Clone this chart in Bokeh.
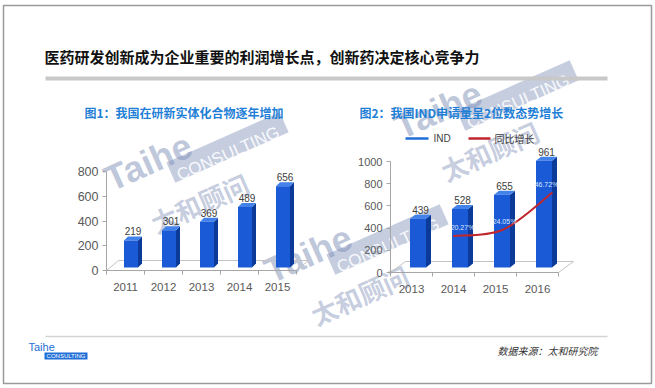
import math
from bokeh.plotting import figure
from bokeh.models import Range1d, LinearAxis, FixedTicker
from bokeh.embed import file_html
from bokeh.resources import INLINE
from bokeh.core.properties import value

W, H = 655, 388

# ---------------- data ----------------
main_title = "医药研发创新成为企业重要的利润增长点，创新药决定核心竞争力"
title1 = "图1：我国在研新实体化合物逐年增加"
title2 = "图2：我国IND申请量呈2位数态势增长"
source_text = "数据来源：太和研究院"

years1 = ["2011", "2012", "2013", "2014", "2015"]
counts1 = [219, 301, 369, 489, 656]
yticks1 = [0, 200, 400, 600, 800]

years2 = ["2013", "2014", "2015", "2016"]
ind2 = [439, 528, 655, 961]
yticks2 = [0, 200, 400, 600, 800, 1000]

growth_idx = [1, 2, 3]          # 2014, 2015, 2016
growth2 = [20.27, 24.05, 46.72]  # %
legend_labels = ["IND", "同比增长"]

# ---------------- helpers ----------------
def range_x(a, pa, b, pb):
    k = (b - a) / (pb - pa)
    return Range1d(start=a + (0 - pa) * k, end=a + (W - pa) * k)

def range_y(a, pa, b, pb):
    k = (b - a) / (pb - pa)
    return Range1d(start=a + (H - pa) * k, end=a + (0 - pa) * k)

p = figure(width=W, height=H, x_range=Range1d(0, W), y_range=Range1d(H, 0),
           x_axis_type=None, y_axis_type=None, toolbar_location=None,
           output_backend="svg", min_border=0)
p.outline_line_color = None
p.background_fill_color = "white"

# chart scales (pixel placement of each panel)
C1 = dict(px_cat=38.0, x0=125.0, y0=270.0, ytop=171.0, vtop=800.0)
C2 = dict(px_cat=42.0, x0=411.0, y0=272.0, ytop=161.0, vtop=1000.0)
p.extra_x_ranges = {
    "c1x": range_x(0, C1["x0"], 1, C1["x0"] + C1["px_cat"]),
    "c2x": range_x(0, C2["x0"], 1, C2["x0"] + C2["px_cat"]),
    "c2l": range_x(1, 452.7, 3, 552.0),
}
p.extra_y_ranges = {
    "c1y": range_y(0, C1["y0"], C1["vtop"], C1["ytop"]),
    "c2y": range_y(0, C2["y0"], C2["vtop"], C2["ytop"]),
    "c2p": range_y(0, 268.8, 60, 268.8 - 60 * 1.645),
}

FRONT, SIDE, TOP = "#1a5ad6", "#0b3a98", "#4282ea"
AXIS_C = "#a6a6a6"
FLOOR_C = "#c4c4c4"
LABEL_C = "#595959"
FONT = "Liberation Sans"
CJK = "Noto Sans CJK SC"

# ---------------- watermarks (drawn first, behind everything) ----------------
WM = "#7f90b8"
th = math.radians(24)
ux, uy = math.cos(th), -math.sin(th)
vx, vy = math.sin(th), math.cos(th)

def wm(ox, oy):
    def at(a, b):
        return ox + ux * a + vx * b, oy + uy * a + vy * b
    x, y = at(0, 0)
    p.text(x=[x], y=[y], text=["Taihe"], text_font=value(FONT), text_font_size="36px",
           text_font_style="bold", text_color=WM, text_alpha=0.5, angle=th,
           text_baseline="alphabetic")
    corners = [at(62, 8), at(186, 8), at(186, 30), at(62, 30)]
    p.patch(x=[c[0] for c in corners], y=[c[1] for c in corners], fill_color=WM,
            fill_alpha=0.45, line_color=None)
    x, y = at(67, 25)
    p.text(x=[x], y=[y], text=["CONSULTING"], text_font=value(FONT), text_font_size="17px",
           text_color="white", text_alpha=0.9, angle=th, text_baseline="alphabetic")
    x, y = at(24, 58)
    p.text(x=[x], y=[y], text=["太和顾问"], text_font=value(CJK), text_font_size="26px",
           text_font_style="bold", text_color=WM, text_alpha=0.45, angle=th,
           text_baseline="alphabetic")

for (wx, wy) in [(106, 180), (266, 272), (396, 128)]:
    wm(wx, wy)

# ---------------- frame and header/footer ----------------
p.quad(left=[3], right=[651], top=[5], bottom=[383], fill_color=None,
       line_color="#9a9a9a", line_width=1.5)
p.text(x=[44], y=[56], text=[main_title], text_font=value(CJK),
       text_font_size="15px", text_font_style="bold", text_color="#111111",
       text_baseline="middle", text_align="left")
p.segment(x0=[45], y0=[78], x1=[607], y1=[78], line_color="#c8c8c8", line_width=4)
p.segment(x0=[45], y0=[336], x1=[607], y1=[336], line_color="#d4d4d4", line_width=1.5)
p.text(x=[497], y=[350], text=[source_text], text_font=value(CJK),
       text_font_size="10px", text_font_style="italic", text_color="#333333",
       text_baseline="middle", text_align="left")
# logo
p.text(x=[28], y=[346], text=["Taihe"], text_font=value(FONT), text_font_size="11px",
       text_color="#1f6fd6", text_baseline="middle", text_align="left")
p.quad(left=[44], right=[87], top=[352], bottom=[359], fill_color="#1f6fd6", line_color=None)
p.text(x=[65.5], y=[355.5], text=["CONSULTING"], text_font=value(FONT), text_font_size="6px",
       text_color="white", text_baseline="middle", text_align="center")

# chart titles
p.text(x=[84], y=[112], text=[title1], text_font=value(CJK), text_font_size="12px",
       text_font_style="bold", text_color="#1f7fd6", text_baseline="middle")
p.text(x=[359], y=[112], text=[title2], text_font=value(CJK), text_font_size="12px",
       text_font_style="bold", text_color="#1f7fd6", text_baseline="middle")


def bars3d(cfg, xn, yn, vals, ox_px, w_px, base_px, dx_px, dy_px, floor_dx, floor_dy, n):
    pxc = cfg["px_cat"]
    pyu = (cfg["y0"] - cfg["ytop"]) / cfg["vtop"]
    ox, hw = ox_px / pxc, w_px / 2 / pxc
    b0, ddx, ddy = base_px / pyu, dx_px / pxc, dy_px / pyu
    # floor
    fdx, fdy = floor_dx / pxc, floor_dy / pyu
    p.patch(x=[-0.5, n - 0.5, n - 0.5 + fdx, -0.5 + fdx], y=[0, 0, fdy, fdy],
            fill_color=None, line_color=FLOOR_C, line_width=1,
            x_range_name=xn, y_range_name=yn)
    xs = list(range(n))
    L = [i + ox - hw for i in xs]
    R = [i + ox + hw for i in xs]
    T = [b0 + v for v in vals]
    p.patches(xs=[[r, r + ddx, r + ddx, r] for r in R],
              ys=[[b0, b0 + ddy, t + ddy, t] for t in T],
              fill_color=SIDE, line_color=None, x_range_name=xn, y_range_name=yn)
    p.patches(xs=[[l, l + ddx, r + ddx, r] for l, r in zip(L, R)],
              ys=[[t, t + ddy, t + ddy, t] for t in T],
              fill_color=TOP, line_color=None, x_range_name=xn, y_range_name=yn)
    p.quad(left=L, right=R, bottom=[b0] * n, top=T, fill_color=FRONT, line_color=None,
           x_range_name=xn, y_range_name=yn)
    p.text(x=[i + ox + ddx / 2 for i in xs], y=[t + 9 / pyu for t in T],
           text=[str(v) for v in vals], text_font=value(FONT), text_font_size="10px",
           text_color="#404040", text_align="center", text_baseline="middle",
           x_range_name=xn, y_range_name=yn)
    return ox, ddx


def axes(xn, yn, n, ticks, cats, ysize):
    ya = LinearAxis(x_range_name=xn, y_range_name=yn, fixed_location=-0.5,
                    bounds=(ticks[0], ticks[-1]), ticker=FixedTicker(ticks=ticks))
    ya.axis_line_color = AXIS_C
    ya.major_tick_line_color = AXIS_C
    ya.major_tick_out = 4
    ya.major_tick_in = 0
    ya.minor_tick_line_color = None
    ya.major_label_text_font = FONT
    ya.major_label_text_font_size = ysize
    ya.major_label_text_color = LABEL_C
    ya.major_label_standoff = 4
    p.add_layout(ya, "left")
    xa = LinearAxis(x_range_name=xn, y_range_name=yn, fixed_location=0,
                    bounds=(-0.5, n - 0.5),
                    ticker=FixedTicker(ticks=list(range(n)),
                                       minor_ticks=[i - 0.5 for i in range(n + 1)]),
                    major_label_overrides={i: c for i, c in enumerate(cats)})
    xa.axis_line_color = AXIS_C
    xa.major_tick_line_color = None
    xa.minor_tick_line_color = AXIS_C
    xa.minor_tick_out = 4
    xa.minor_tick_in = 0
    xa.major_label_text_font = FONT
    xa.major_label_text_font_size = "11.5px"
    xa.major_label_text_color = LABEL_C
    xa.major_label_standoff = 6
    p.add_layout(xa, "below")


# ---------------- chart 1 ----------------
axes("c1x", "c1y", len(years1), yticks1, years1, "12.5px")
bars3d(C1, "c1x", "c1y", counts1, 5.5, 14, 3, 4, 4, 12, 10, len(years1))

# ---------------- chart 2 ----------------
axes("c2x", "c2y", len(years2), yticks2, years2, "11px")
ox2, ddx2 = bars3d(C2, "c2x", "c2y", ind2, 6.5, 16, 5, 5, 4, 15, 11, len(years2))

# growth line (smoothed, Catmull-Rom as bezier)
P = list(zip(growth_idx, growth2))
bx0, by0, bx1, by1, cx0, cy0, cx1, cy1 = ([] for _ in range(8))
for k in range(len(P) - 1):
    p0 = P[k - 1] if k > 0 else P[k]
    p1, p2 = P[k], P[k + 1]
    p3 = P[k + 2] if k + 2 < len(P) else P[k + 1]
    bx0.append(p1[0]); by0.append(p1[1]); bx1.append(p2[0]); by1.append(p2[1])
    cx0.append(p1[0] + (p2[0] - p0[0]) / 6); cy0.append(p1[1] + (p2[1] - p0[1]) / 6)
    cx1.append(p2[0] - (p3[0] - p1[0]) / 6); cy1.append(p2[1] - (p3[1] - p1[1]) / 6)
p.bezier(x0=bx0, y0=by0, x1=bx1, y1=by1, cx0=cx0, cy0=cy0, cx1=cx1, cy1=cy1,
         line_color="#c0262d", line_width=2, x_range_name="c2l", y_range_name="c2p")
pct_unit = 1 / 1.645
p.text(x=[i + ox2 + ddx2 / 2 for i in growth_idx], y=[g + 8 * pct_unit for g in growth2],
       text=["%.2f%%" % g for g in growth2], text_font=value(FONT), text_font_size="7px",
       text_color="#dce8ff", text_align="center", text_baseline="middle",
       x_range_name="c2x", y_range_name="c2p")

# legend
p.segment(x0=[405], y0=[138], x1=[428], y1=[138], line_color="#1f6fd6", line_width=2.5)
p.text(x=[433], y=[138], text=[legend_labels[0]], text_font=value(FONT), text_font_size="10px",
       text_color="#404040", text_baseline="middle")
p.segment(x0=[468], y0=[138], x1=[490], y1=[138], line_color="#c0262d", line_width=2.5)
p.text(x=[494], y=[138], text=[legend_labels[1]], text_font=value(CJK), text_font_size="10px",
       text_color="#404040", text_baseline="middle")

open("out.html", "w").write(file_html(p, INLINE))
